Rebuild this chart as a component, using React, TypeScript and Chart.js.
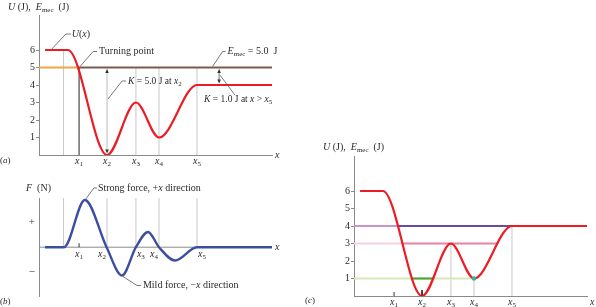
import React, { useEffect, useRef } from "react";
import { Chart, registerables } from "chart.js";
Chart.register(...registerables);

// ---------------- data ----------------
// potential energy curve U(x) (J): flat ends and turning values, x in arbitrary units along the axis
const U_X = [0.26, 1.24, 2.92, 4.16, 5.15, 6.78, 10];
const U_Y = [6, 6, 0, 3, 1, 4, 4];
// force curve F(x) (arbitrary units, +/- labelled)
const F_X = [0.26, 1.07, 1.97, 2.9, 3.56, 4.16, 4.68, 5.15, 5.84, 6.78, 10];
const F_Y = [0, 0, 1.92, 0, -1.15, 0, 0.62, 0, -0.54, 0, 0];
// named positions x1..x5
const X_POS = [1.72, 2.92, 4.16, 5.15, 6.78];
const X_NAMES = ["1", "2", "3", "4", "5"];
const BEND_X = 1.05;
const E_MEC = 5;
const U_AFTER_X5 = 4;
const K_ARROW_X = 7.73;
const U_TICKS = [1, 2, 3, 4, 5, 6];
const U_TICK_LABELS = ["1", "2", "3", "4", "5", "6"];
const F_TICKS = [1, -1];
const F_TICK_LABELS = ["+", "\u2212"];
// panel (c) energy levels
const LEVELS = [4, 3, 1];
const LEVEL_PALE_END = [1.89, 2.08, 2.49];
const LEVEL_DARK_END = [6.78, 6.15, 3.4];
const LEVEL_TAIL_END = [0, 0, 5.15];
const LEVEL_GUIDE_TOP = [3, 1, 4]; // guides at x3, x4, x5

// ---------------- style ----------------
const SERIF = "'Liberation Serif', 'DejaVu Serif', serif";
const TEXT = "#2a2a2a";
const AXIS = "#8a8a8a";
const GUIDE = "#c8c8c8";
const LEADER = "#555";
const RED = "#ec1c24";
const BLUE = "#3b4ea2";
const ORANGE = "#f0a548";
const BROWN = "#7b5b4b";
const PALE = ["#c994cc", "#f6d2de", "#d3e9b6"];
const DARK = ["#6a4b9c", "#e9829f", "#4ea332"];
const TEAL = "#2fb3a0";

type Part = { t: string; i?: boolean; sub?: boolean };

function rich(ctx: CanvasRenderingContext2D, x: number, y: number, parts: Part[], size = 10, align: "left" | "center" | "right" = "left") {
  ctx.save();
  ctx.textBaseline = "middle";
  ctx.textAlign = "left";
  ctx.fillStyle = TEXT;
  const fontFor = (p: Part) => `${p.i ? "italic " : ""}${p.sub ? Math.round(size * 0.72) : size}px ${SERIF}`;
  let w = 0;
  for (const p of parts) {
    ctx.font = fontFor(p);
    w += ctx.measureText(p.t).width;
  }
  let cx = align === "left" ? x : align === "center" ? x - w / 2 : x - w;
  for (const p of parts) {
    ctx.font = fontFor(p);
    ctx.fillText(p.t, cx, y + (p.sub ? size * 0.3 : 0));
    cx += ctx.measureText(p.t).width;
  }
  ctx.restore();
}

function poly(ctx: CanvasRenderingContext2D, pts: number[][], color = LEADER, w = 0.8) {
  ctx.save();
  ctx.strokeStyle = color;
  ctx.lineWidth = w;
  ctx.beginPath();
  pts.forEach((p, i) => (i ? ctx.lineTo(p[0], p[1]) : ctx.moveTo(p[0], p[1])));
  ctx.stroke();
  ctx.restore();
}

function dblArrow(ctx: CanvasRenderingContext2D, x: number, y0: number, y1: number, lineColor: string, headColor = "#333") {
  poly(ctx, [[x, y0 + 2], [x, y1 - 2]], lineColor, 1);
  ctx.save();
  ctx.fillStyle = headColor;
  ctx.beginPath();
  ctx.moveTo(x, y0 + 0.5);
  ctx.lineTo(x - 1.8, y0 + 4.5);
  ctx.lineTo(x + 1.8, y0 + 4.5);
  ctx.closePath();
  ctx.fill();
  ctx.beginPath();
  ctx.moveTo(x, y1 - 0.5);
  ctx.lineTo(x - 1.8, y1 - 4.5);
  ctx.lineTo(x + 1.8, y1 - 4.5);
  ctx.closePath();
  ctx.fill();
  ctx.restore();
}

const xName = (k: number): Part[] => [{ t: "x", i: true }, { t: X_NAMES[k], sub: true }];
const emecTitle: Part[] = [{ t: "U", i: true }, { t: " (J),  " }, { t: "E", i: true }, { t: "mec", sub: true }, { t: "  (J)" }];

function seg(x0: number, y0: number, x1: number, y1: number, color: string, width: number, order = 3) {
  return {
    data: [{ x: x0, y: y0 }, { x: x1, y: y1 }],
    borderColor: color,
    borderWidth: width,
    pointRadius: 0,
    tension: 0,
    order,
  };
}

function curve(xs: number[], ys: number[], color: string, width: number) {
  return {
    data: xs.map((x, i) => ({ x, y: ys[i] })),
    borderColor: color,
    borderWidth: width,
    pointRadius: 0,
    cubicInterpolationMode: "monotone",
    order: 0,
  };
}

function baseOptions(o: any) {
  return {
    responsive: false,
    animation: false,
    devicePixelRatio: 1,
    events: [],
    layout: { padding: o.padding, autoPadding: false },
    plugins: { legend: { display: false }, tooltip: { enabled: false } },
    scales: {
      x: {
        type: "linear",
        min: 0,
        max: 10,
        ticks: { display: false },
        grid: { display: false, drawTicks: false },
        border: { display: o.xBorder, color: AXIS, width: 1 },
        afterFit: (s: any) => {
          s.height = o.xAxisH;
        },
      },
      y: {
        type: "linear",
        min: o.ymin,
        max: o.ymax,
        afterBuildTicks: (s: any) => {
          s.ticks = o.yTicks.map((v: number) => ({ value: v }));
        },
        ticks: {
          autoSkip: false,
          callback: (_v: any, i: number) => o.yLabels[i],
          font: { family: SERIF, size: o.tickSize || 10 },
          color: TEXT,
          padding: o.tickPad,
        },
        grid: { drawOnChartArea: false, drawTicks: o.tickLen > 0, tickLength: o.tickLen, color: AXIS },
        border: { display: true, color: AXIS, width: 1 },
        afterFit: (s: any) => {
          s.width = o.yAxisW;
        },
      },
    },
  };
}

// ---------------- panel (a) ----------------
function configA() {
  const ann = {
    id: "annA",
    afterDraw(chart: any) {
      const ctx = chart.ctx as CanvasRenderingContext2D;
      const px = (v: number) => chart.scales.x.getPixelForValue(v);
      const py = (v: number) => chart.scales.y.getPixelForValue(v);
      const ca = chart.chartArea;
      rich(ctx, 8, 7, emecTitle, 10);
      rich(ctx, ca.right + 3, ca.bottom, [{ t: "x", i: true }], 10);
      rich(ctx, 0, 161, [{ t: "(" }, { t: "a", i: true }, { t: ")" }], 9);
      X_POS.forEach((v, k) => rich(ctx, px(v), ca.bottom + 6, xName(k), 10, "center"));
      // U(x)
      const ux = px(0.55), uy = py(6);
      poly(ctx, [[ux, uy - 1], [ux + 14, uy - 16], [ux + 19, uy - 16]]);
      rich(ctx, ux + 20, uy - 16, [{ t: "U", i: true }, { t: "(" }, { t: "x", i: true }, { t: ")" }], 10);
      // turning point
      const tx = px(X_POS[0]), ty = py(E_MEC);
      poly(ctx, [[tx + 1, ty - 1], [tx + 14, ty - 16], [tx + 18, ty - 16]]);
      rich(ctx, tx + 20, ty - 16, [{ t: "Turning point" }], 10);
      // E_mec label
      const ex = px(7.45), ey = py(E_MEC);
      poly(ctx, [[ex, ey - 1], [ex + 10, ey - 16], [ex + 13, ey - 16]]);
      rich(ctx, ex + 15, ey - 16, [{ t: "E", i: true }, { t: "mec", sub: true }, { t: " = 5.0  J" }], 10);
      // K = 5.0 J at x2
      const kx = px(X_POS[1]);
      dblArrow(ctx, kx, py(E_MEC) + 1, py(0) - 1, "#bdbdbd");
      const ly = py(3.2);
      poly(ctx, [[kx + 1, ly], [kx + 15, ly - 18], [kx + 19, ly - 18]]);
      rich(ctx, kx + 21, ly - 18, [{ t: "K", i: true }, { t: " = 5.0 J at " }, ...xName(1)], 9.5);
      // K = 1.0 J at x > x5
      const ax = px(K_ARROW_X);
      dblArrow(ctx, ax, py(E_MEC) + 1, py(U_AFTER_X5) - 1, "#777");
      const my = (py(E_MEC) + py(U_AFTER_X5)) / 2;
      poly(ctx, [[ax + 1, my - 1], [ax + 16, my + 19]]);
      rich(ctx, ax - 15, my + 23, [{ t: "K", i: true }, { t: " = 1.0 J at " }, { t: "x", i: true }, { t: " > " }, ...xName(4)], 9.5);
    },
  };
  return {
    type: "line",
    data: {
      datasets: [
        curve(U_X, U_Y, RED, 2.2),
        seg(0, E_MEC, X_POS[0], E_MEC, ORANGE, 2, 1),
        seg(X_POS[0], E_MEC, 10, E_MEC, BROWN, 2, 1),
        seg(BEND_X, 0, BEND_X, 6, GUIDE, 1, 4),
        seg(X_POS[0], 0, X_POS[0], E_MEC, "#222", 1, 2),
        ...[2, 3, 4].map((k) => seg(X_POS[k], 0, X_POS[k], E_MEC, GUIDE, 1, 4)),
      ],
    },
    options: baseOptions({
      ymin: 0, ymax: 8, yTicks: U_TICKS, yLabels: U_TICK_LABELS,
      padding: { left: 0, top: 15, right: 28, bottom: 0 },
      xAxisH: 13, yAxisW: 39, xBorder: true, tickLen: 3, tickPad: 1,
    }),
    plugins: [ann],
  };
}

// ---------------- panel (b) ----------------
const B_ALIGN: ("left" | "center" | "right")[] = ["center", "right", "left", "right", "left"];
function configB() {
  const ann = {
    id: "annB",
    afterDraw(chart: any) {
      const ctx = chart.ctx as CanvasRenderingContext2D;
      const px = (v: number) => chart.scales.x.getPixelForValue(v);
      const py = (v: number) => chart.scales.y.getPixelForValue(v);
      const ca = chart.chartArea;
      const zy = py(0);
      rich(ctx, 26, 20, [{ t: "F", i: true }, { t: "  (N)" }], 10);
      rich(ctx, ca.right + 3, zy, [{ t: "x", i: true }], 10);
      rich(ctx, 0, 134, [{ t: "(" }, { t: "b", i: true }, { t: ")" }], 9);
      X_POS.forEach((v, k) => {
        const a = B_ALIGN[k];
        const x = a === "center" ? px(v) : a === "right" ? px(v) - 1 : px(v) + 1;
        rich(ctx, x, zy + 7, xName(k), 10, a);
      });
      poly(ctx, [[px(X_POS[0]), zy], [px(X_POS[0]), zy - 4]], "#333", 1);
      // strong force
      const sx = px(1.97), sy = py(1.92);
      poly(ctx, [[sx + 1, sy - 1], [sx + 9, sy - 12], [sx + 12, sy - 12]]);
      rich(ctx, sx + 13, sy - 12, [{ t: "Strong force, +" }, { t: "x", i: true }, { t: " direction" }], 10);
      // mild force
      const mx = px(3.56), my = py(-1.15);
      poly(ctx, [[mx + 1, my + 1], [mx + 15, my + 10], [mx + 19, my + 10]]);
      rich(ctx, mx + 21, my + 10, [{ t: "Mild force, \u2212" }, { t: "x", i: true }, { t: " direction" }], 10);
    },
  };
  return {
    type: "line",
    data: {
      datasets: [
        curve(F_X, F_Y, BLUE, 2.4),
        seg(0, 0, 10, 0, AXIS, 1, 2),
        seg(BEND_X, 0, BEND_X, 2, GUIDE, 1, 4),
        ...[1, 2, 3, 4].map((k) => seg(X_POS[k], 0, X_POS[k], 2, GUIDE, 1, 4)),
      ],
    },
    options: baseOptions({
      ymin: -2, ymax: 2, yTicks: F_TICKS, yLabels: F_TICK_LABELS,
      padding: { left: 0, top: 30, right: 28, bottom: 0 },
      xAxisH: 5, yAxisW: 39, xBorder: false, tickLen: 0, tickPad: 4, tickSize: 11,
    }),
    plugins: [ann],
  };
}

// ---------------- panel (c) ----------------
function configC() {
  const ann = {
    id: "annC",
    afterDraw(chart: any) {
      const ctx = chart.ctx as CanvasRenderingContext2D;
      const px = (v: number) => chart.scales.x.getPixelForValue(v);
      const ca = chart.chartArea;
      rich(ctx, 23, 27, emecTitle, 10);
      rich(ctx, ca.right + 3, ca.bottom + 6, [{ t: "x", i: true }], 10);
      rich(ctx, 5, 181, [{ t: "(" }, { t: "c", i: true }, { t: ")" }], 9);
      X_POS.forEach((v, k) => rich(ctx, px(v), ca.bottom + 6, xName(k), 10, "center"));
      [0, 1].forEach((k) => poly(ctx, [[px(X_POS[k]), ca.bottom], [px(X_POS[k]), ca.bottom - 4]], "#333", 1));
    },
  };
  const levelSets: any[] = [];
  LEVELS.forEach((L, k) => {
    levelSets.push(seg(0, L, LEVEL_PALE_END[k], L, PALE[k], 2.2, 2));
    levelSets.push(seg(LEVEL_PALE_END[k], L, LEVEL_DARK_END[k], L, DARK[k], 2.2, 2));
    if (LEVEL_TAIL_END[k] > LEVEL_DARK_END[k]) levelSets.push(seg(LEVEL_DARK_END[k], L, LEVEL_TAIL_END[k], L, PALE[k], 2.2, 2));
  });
  return {
    type: "line",
    data: {
      datasets: [
        curve(U_X, U_Y, RED, 2.2),
        ...levelSets,
        ...[2, 3, 4].map((k, j) => seg(X_POS[k], 0, X_POS[k], LEVEL_GUIDE_TOP[j], GUIDE, 1, 4)),
        seg(X_POS[1], 0, X_POS[1], 0.35, "#111", 1.5, 1),
        {
          data: [{ x: X_POS[3], y: 1 }],
          showLine: false,
          pointRadius: 2.2,
          pointBackgroundColor: TEAL,
          pointBorderWidth: 0,
          order: -1,
        },
      ],
    },
    options: baseOptions({
      ymin: 0, ymax: 8, yTicks: U_TICKS, yLabels: U_TICK_LABELS,
      padding: { left: 0, top: 36, right: 9, bottom: 0 },
      xAxisH: 11, yAxisW: 54, xBorder: true, tickLen: 3, tickPad: 1,
    }),
    plugins: [ann],
  };
}

function Panel({ left, top, width, height, make }: { left: number; top: number; width: number; height: number; make: () => any }) {
  const ref = useRef<HTMLCanvasElement>(null);
  useEffect(() => {
    const chart = new Chart(ref.current as HTMLCanvasElement, make());
    return () => chart.destroy();
  }, []);
  return (
    <canvas
      ref={ref}
      width={width}
      height={height}
      style={{ position: "absolute", left, top, width, height, display: "block" }}
    />
  );
}

export default function App() {
  return (
    <div style={{ position: "fixed", left: 0, top: 0, width: 596, height: 307, background: "#fff", overflow: "hidden" }}>
      <Panel left={0} top={0} width={300} height={168} make={configA} />
      <Panel left={0} top={168} width={300} height={139} make={configB} />
      <Panel left={300} top={120} width={296} height={187} make={configC} />
    </div>
  );
}
